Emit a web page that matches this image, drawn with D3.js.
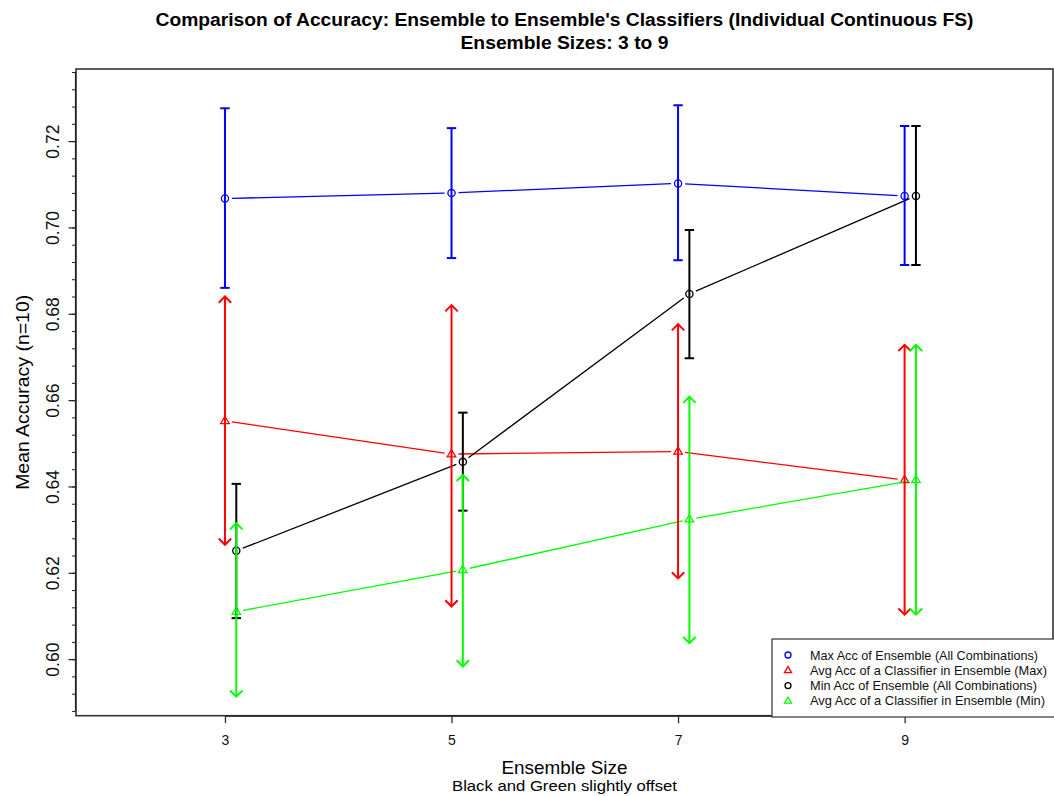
<!DOCTYPE html>
<html lang="en">
<head>
<meta charset="UTF-8">
<title>Comparison of Accuracy</title>
<style>
    body { margin:0; background:#fff; }
    svg text { font-family:"Liberation Sans", Arial, sans-serif; }
    .axis line, .axis path { stroke:#222; }
</style>
</head>
<body>
<script src="https://cdn.jsdelivr.net/npm/d3@7"></script>
<script type="text/javascript">
    // ensemble sizes (x)
    var sizes = [3, 5, 7, 9];
    // Max Acc of Ensemble (All Combinations) - blue
    var maxAcc = [0.7067, 0.7080, 0.7102, 0.7073];
    var maxHi  = [0.7276, 0.7230, 0.7283, 0.7235];
    var maxLo  = [0.6860, 0.6929, 0.6924, 0.6913];
    // Avg Acc of a Classifier in Ensemble (Max) - red
    var avgMax   = [0.6552, 0.6475, 0.6481, 0.6415];
    var avgMaxHi = [0.6840, 0.6820, 0.6776, 0.6728];
    var avgMaxLo = [0.6265, 0.6122, 0.6187, 0.6103];
    // Min Acc of Ensemble (All Combinations) - black, offset
    var minAcc = [0.6251, 0.6457, 0.6846, 0.7073];
    var minHi  = [0.6406, 0.6571, 0.6994, 0.7235];
    var minLo  = [0.6095, 0.6344, 0.6697, 0.6913];
    // Avg Acc of a Classifier in Ensemble (Min) - green, offset
    var avgMin   = [0.6110, 0.6207, 0.6324, 0.6415];
    var avgMinHi = [0.6315, 0.6427, 0.6608, 0.6728];
    var avgMinLo = [0.5913, 0.5983, 0.6037, 0.6103];

    var yTicks = [0.60, 0.62, 0.64, 0.66, 0.68, 0.70, 0.72];
    var legendLabels = ["Max Acc of Ensemble (All Combinations)",
                        "Avg Acc of a Classifier in Ensemble (Max)",
                        "Min Acc of Ensemble (All Combinations)",
                        "Avg Acc of a Classifier in Ensemble (Min)"];

    var w = 1054, h = 796;
    var pL = 76, pR = 1053, pT = 69, pB = 715.7;
    var offset = 0.1;

    var svg = d3.select("body").append("svg").attr("width", w).attr("height", h);

    var xScale = d3.scaleLinear().domain([1.685, 10.31]).range([pL, pR]);
    var yScale = d3.scaleLinear().domain([0.5869, 0.7367]).range([pB, pT]);

    var series = [
        {name: legendLabels[0], col: "#0000ff", shape: "circle", dx: 0, v: maxAcc, hi: maxHi, lo: maxLo, head: "flat"},
        {name: legendLabels[1], col: "#ff0000", shape: "triangle", dx: 0, v: avgMax, hi: avgMaxHi, lo: avgMaxLo, head: "arrow"},
        {name: legendLabels[2], col: "#000000", shape: "circle", dx: offset, v: minAcc, hi: minHi, lo: minLo, head: "flat"},
        {name: legendLabels[3], col: "#00ff00", shape: "triangle", dx: offset, v: avgMin, hi: avgMinHi, lo: avgMinLo, head: "arrow"}
    ];

    function drawMarker(g, shape, x, y, col, r) {
        if (shape == "circle") {
            g.append("circle").attr("cx", x).attr("cy", y).attr("r", r)
                .attr("fill", "none").attr("stroke", col).attr("stroke-width", 1.3);
        } else {
            var s = r * 1.25;
            g.append("path")
                .attr("d", "M" + x + "," + (y - s) + "L" + (x + s * 0.95) + "," + (y + s * 0.6) + "L" + (x - s * 0.95) + "," + (y + s * 0.6) + "Z")
                .attr("fill", "none").attr("stroke", col).attr("stroke-width", 1.3);
        }
    }

    // lines (type="b" style with gaps around points)
    var gap = 7;
    series.forEach(function (s) {
        var g = svg.append("g");
        for (var i = 0; i < sizes.length - 1; i++) {
            var x1 = xScale(sizes[i] + s.dx), y1 = yScale(s.v[i]);
            var x2 = xScale(sizes[i + 1] + s.dx), y2 = yScale(s.v[i + 1]);
            var len = Math.sqrt((x2 - x1) * (x2 - x1) + (y2 - y1) * (y2 - y1));
            var ux = (x2 - x1) / len, uy = (y2 - y1) / len;
            g.append("line")
                .attr("x1", x1 + ux * gap).attr("y1", y1 + uy * gap)
                .attr("x2", x2 - ux * gap).attr("y2", y2 - uy * gap)
                .attr("stroke", s.col).attr("stroke-width", 1.3);
        }
        sizes.forEach(function (d, i) {
            drawMarker(g, s.shape, xScale(d + s.dx), yScale(s.v[i]), s.col, 3.6);
        });
    });

    // error bars
    series.forEach(function (s) {
        var g = svg.append("g");
        sizes.forEach(function (d, i) {
            var x = xScale(d + s.dx);
            var yh = yScale(s.hi[i]), yl = yScale(s.lo[i]);
            g.append("line").attr("x1", x).attr("x2", x).attr("y1", yh).attr("y2", yl)
                .attr("stroke", s.col).attr("stroke-width", 2);
            if (s.head == "flat") {
                [yh, yl].forEach(function (yy) {
                    g.append("line").attr("x1", x - 4.7).attr("x2", x + 4.7).attr("y1", yy).attr("y2", yy)
                        .attr("stroke", s.col).attr("stroke-width", 2);
                });
            } else {
                g.append("path").attr("d", "M" + (x - 6.2) + "," + (yh + 6.2) + "L" + x + "," + yh + "L" + (x + 6.2) + "," + (yh + 6.2))
                    .attr("fill", "none").attr("stroke", s.col).attr("stroke-width", 2);
                g.append("path").attr("d", "M" + (x - 6.2) + "," + (yl - 6.2) + "L" + x + "," + yl + "L" + (x + 6.2) + "," + (yl - 6.2))
                    .attr("fill", "none").attr("stroke", s.col).attr("stroke-width", 2);
            }
        });
    });

    // plot box
    svg.append("rect").attr("x", pL).attr("y", pT).attr("width", pR - pL).attr("height", pB - pT)
        .attr("fill", "none").attr("stroke", "#333").attr("stroke-width", 1.6);

    // y axis: major + minor ticks
    var minorTicks = d3.range(0, 38).map(function (i) { return +(0.588 + i * 0.004).toFixed(3); });
    var yMinor = d3.axisLeft(yScale).tickValues(minorTicks).tickSize(3.5).tickFormat("");
    var yAxis = d3.axisLeft(yScale).tickValues(yTicks).tickSize(7).tickFormat(d3.format(".2f"));
    var gMinor = svg.append("g").attr("class", "axis").attr("transform", "translate(" + (pL - 0.5) + ",0)").call(yMinor);
    gMinor.select(".domain").remove();
    var gy = svg.append("g").attr("class", "axis").attr("transform", "translate(" + (pL - 0.5) + ",0)").call(yAxis);
    gy.select(".domain").remove();
    gy.selectAll("line").attr("stroke-width", 1.2);
    gy.selectAll("text")
        .attr("transform", "rotate(-90)")
        .attr("x", 0).attr("y", -17).attr("dy", 0)
        .style("text-anchor", "middle")
        .attr("font-size", "17.5px").attr("fill", "#111");
    svg.append("line").attr("x1", pL - 0.5).attr("x2", pL - 0.5)
        .attr("y1", yScale(minorTicks[0])).attr("y2", yScale(minorTicks[minorTicks.length - 1]))
        .attr("stroke", "#222").attr("stroke-width", 1.2);

    // x axis
    var xAxis = d3.axisBottom(xScale).tickValues(sizes).tickSize(7).tickSizeOuter(0).tickFormat(d3.format("d"));
    var gx = svg.append("g").attr("class", "axis").attr("transform", "translate(0," + (pB + 0.5) + ")").call(xAxis);
    gx.select(".domain").remove();
    gx.selectAll("line").attr("stroke-width", 1.2);
    gx.selectAll("text").attr("y", 29).attr("dy", 0).attr("font-size", "14px").attr("fill", "#111");
    svg.append("line").attr("x1", xScale(3)).attr("x2", xScale(9)).attr("y1", pB + 0.5).attr("y2", pB + 0.5)
        .attr("stroke", "#222").attr("stroke-width", 1.2);

    // titles
    var cx = (pL + pR) / 2;
    svg.append("text").attr("x", cx).attr("y", 26).attr("text-anchor", "middle")
        .attr("font-size", "18px").attr("font-weight", "bold").attr("fill", "#000")
        .attr("textLength", 818).attr("lengthAdjust", "spacingAndGlyphs")
        .text("Comparison of Accuracy: Ensemble to Ensemble's Classifiers (Individual Continuous FS)");
    svg.append("text").attr("x", cx).attr("y", 49).attr("text-anchor", "middle")
        .attr("font-size", "18px").attr("font-weight", "bold").attr("fill", "#000")
        .attr("textLength", 208).attr("lengthAdjust", "spacingAndGlyphs")
        .text("Ensemble Sizes: 3 to 9");
    svg.append("text").attr("x", cx).attr("y", 774).attr("text-anchor", "middle")
        .attr("font-size", "19px").attr("fill", "#000")
        .attr("textLength", 126).attr("lengthAdjust", "spacingAndGlyphs")
        .text("Ensemble Size");
    svg.append("text").attr("x", cx).attr("y", 791).attr("text-anchor", "middle")
        .attr("font-size", "15.5px").attr("fill", "#000")
        .attr("textLength", 225).attr("lengthAdjust", "spacingAndGlyphs")
        .text("Black and Green slightly offset");
    svg.append("text").attr("transform", "translate(29," + ((pT + pB) / 2) + ") rotate(-90)")
        .attr("text-anchor", "middle").attr("font-size", "19px").attr("fill", "#000")
        .attr("textLength", 195).attr("lengthAdjust", "spacingAndGlyphs")
        .text("Mean Accuracy (n=10)");

    // legend
    var legW = [228, 237, 227, 235];
    var lg = svg.append("g");
    lg.append("rect").attr("x", 772).attr("y", 639).attr("width", 290).attr("height", 78)
        .attr("fill", "#fff").attr("stroke", "#333").attr("stroke-width", 1.2);
    series.forEach(function (s, i) {
        var yy = 655 + i * 15.3;
        drawMarker(lg, s.shape, 788, yy, s.col, 3);
        lg.append("text").attr("x", 810).attr("y", yy + 4.5).attr("font-size", "13px").attr("fill", "#111")
            .attr("textLength", legW[i]).attr("lengthAdjust", "spacingAndGlyphs")
            .text(s.name);
    });
</script>
</body>
</html>
